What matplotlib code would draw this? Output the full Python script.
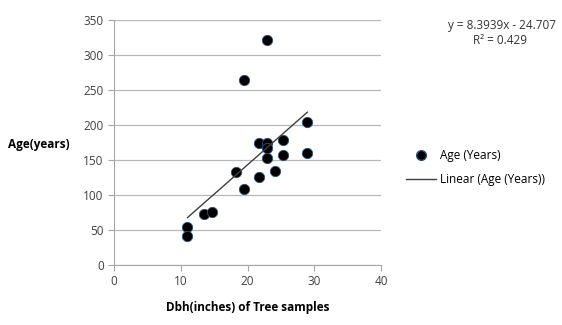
import numpy as np
import matplotlib
matplotlib.use("Agg")
import matplotlib.pyplot as plt
from matplotlib.lines import Line2D

dbh = [11.0, 11.0, 13.4, 14.6, 18.2, 19.4, 19.4, 21.75, 21.75, 22.9, 22.95, 22.95, 22.95, 24.1, 25.35, 25.3, 28.95, 28.95]
age = [54, 42, 73, 76, 133, 264, 109, 175, 126, 321, 174, 167, 153, 134, 178, 157, 204, 160]
eq_text = "y = 8.3939x - 24.707"
r2_text = "R² = 0.429"
slope, intercept = 8.3939, -24.707

plt.rcParams['font.family'] = ['Open Sans', 'DejaVu Sans']
fig = plt.figure(figsize=(5.62, 3.25), dpi=100)
ax = fig.add_axes([0.203, 0.185, 0.475, 0.753])

ax.scatter(dbh, age, s=55, c='black', edgecolors='#2b4f7a', linewidths=0.6, zorder=3)
xs = np.array([min(dbh), max(dbh)])
ax.plot(xs, slope * xs + intercept, color='#404040', lw=1.0, zorder=4)

ax.set_xlim(0, 40)
ax.set_ylim(0, 350)
ax.set_xticks(range(0, 41, 10))
ax.set_yticks(range(0, 351, 50))
ax.yaxis.grid(True, color='#b8b8b8', lw=0.9)
ax.set_axisbelow(True)
for s in ['top', 'right']:
    ax.spines[s].set_visible(False)
for s in ['left', 'bottom']:
    ax.spines[s].set_color('#a6a6a6')
ax.tick_params(colors='#a6a6a6', labelcolor='#404040', labelsize=8.5, length=4)
ax.set_xlabel("Dbh(inches) of Tree samples", fontsize=8.5, fontweight='bold', labelpad=9.5)
fig.text(0.015, 0.555, "Age(years)", fontsize=8.5, fontweight='bold', ha='left', va='center')

fig.text(0.99, 0.922, eq_text, fontsize=8.5, ha='right', va='center', color='#333333')
fig.text(0.89, 0.876, r2_text, fontsize=8.5, ha='center', va='center', color='#333333')

handles = [Line2D([], [], marker='o', color='black', markeredgecolor='#2b4f7a', ls='none', markersize=7),
           Line2D([], [], color='#404040', lw=1.0)]
fig.legend(handles, ["Age (Years)", "Linear (Age (Years))"], loc='center left',
           bbox_to_anchor=(0.703, 0.485), frameon=False, fontsize=8.5,
           handlelength=2.6, handletextpad=0.3, labelspacing=0.9)

fig.savefig("out.png", dpi=100)
